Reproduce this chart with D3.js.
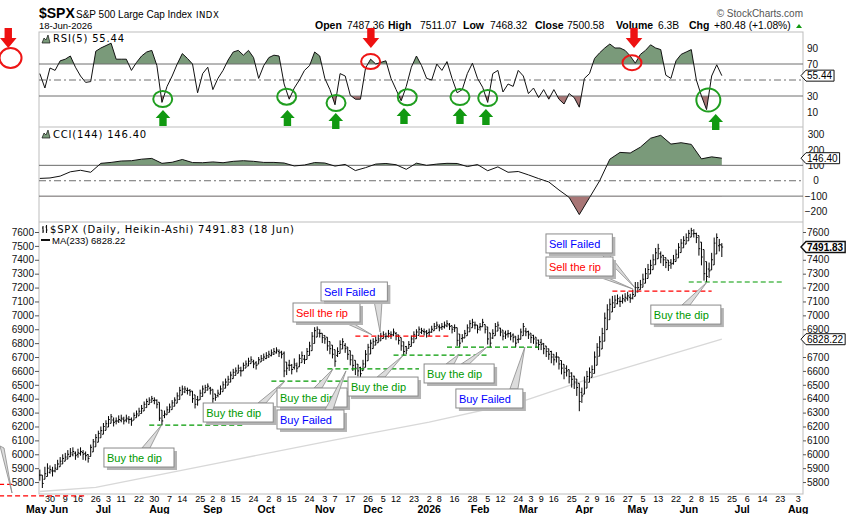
<!DOCTYPE html>
<html>
<head>
<meta charset="utf-8">
<title>$SPX Heikin-Ashi</title>
<script src="https://cdn.jsdelivr.net/npm/d3@7"></script>
<style>
  body { margin: 0; background: #fff; }
  svg text { font-family: "Liberation Sans", Arial, sans-serif; }
</style>
</head>
<body>
<script>
// ---- data ----
var holidays = ["2025-05-26", "2025-06-19", "2025-07-04", "2025-09-01", "2025-11-27", "2025-12-25",
  "2026-01-01", "2026-01-19", "2026-02-16", "2026-04-03", "2026-05-25", "2026-06-19", "2026-07-03"];

// Heikin-Ashi close / low / high, one per trading day from 23 May 2025 to 18 Jun 2026
var closes = [5850,5790,5860,5900,5890, 5880,5900,5930,5950,5970, 5980,6000,6010,6020,5990, 6010,6020,6000,5990,
  5970,6050,6090,6120,6150, 6170, 6200,6220,6250, 6270,6230,6240,6250,6260, 6240,6260,6250,6240,6280,
  6290,6310,6330,6360,6380, 6390,6400,6390,6360, 6260, 6240,6290,6320,6340,6370, 6390,6420,6460,6470,6470,
  6460,6450,6400,6360,6390, 6440,6470,6480,6490,6460, 6400,6410,6440,6470, 6500,6520,6540,6570,6590,
  6600,6620,6600,6640,6650, 6670,6680,6650,6640,6680, 6690,6700,6710,6720,6730, 6740,6750,6730,6720,6600,
  6620,6640,6610,6650,6620, 6690,6710,6680,6740,6780, 6850,6890,6900,6870,6840, 6830,6780,6760,6720,6670,
  6740,6790,6810,6760,6720, 6680,6640,6620,6600,6580, 6650,6720,6770,6800, 6810,6820,6830,6850,6860,
  6850,6870,6860,6880,6850, 6820,6780,6740,6750,6790, 6830,6860,6880,6900,6890,6880,6870,
  6880,6900,6920,6930,6910,6920, 6930,6940,6920,6900,6910, 6820,6800,6840,6870, 6910,6940,6950,6930,6900,
  6920,6950,6900,6830,6800, 6870,6920,6930,6880,6850, 6860,6870,6850,6840, 6800,6830,6880,6920,6880,
  6860,6840,6830,6800,6790, 6790,6760,6740,6720,6700, 6680,6700,6650,6620,6590, 6600,6560,6540,6520,6480,
  6380,6420, 6520,6560, 6590,6610,6700,6770,6810, 6870,6980,7040,7080,7090, 7110,7120,7100,7120,7130,
  7140,7120,7150,7200, 7200, 7220,7260,7300,7330,7360, 7400,7450,7480,7420,7400, 7380,7360,7370,7400,7440,
  7490,7520,7540,7560, 7590,7610,7590,7560,7480, 7420,7300,7280,7320,7400, 7520,7560,7510,7491.83];
var lows = [5810,5757,5820,5860,5860, 5840,5870,5890,5920,5940, 5950,5970,5980,5985,5960, 5975,5990,5960,5955,
  5940,6000,6060,6090,6120, 6140, 6170,6190,6220, 6240,6200,6215,6225,6230, 6215,6230,6220,6205,6250,
  6265,6285,6305,6330,6350, 6365,6375,6360,6330, 6240, 6210,6260,6295,6315,6345, 6360,6395,6430,6445,6440,
  6430,6420,6370,6330,6350, 6400,6440,6455,6460,6430, 6370,6385,6410,6440, 6470,6495,6515,6545,6565,
  6575,6595,6560,6610,6625, 6645,6655,6620,6610,6650, 6665,6675,6685,6695,6705, 6715,6725,6700,6690,6555,
  6570,6600,6575,6610,6590, 6650,6680,6650,6700,6750, 6810,6855,6870,6840,6800, 6795,6745,6720,6690,6630,
  6700,6760,6780,6730,6680, 6640,6600,6570,6560,6545, 6600,6680,6740,6770, 6780,6795,6805,6820,6835,
  6825,6840,6830,6850,6820, 6790,6745,6710,6720,6760, 6800,6830,6855,6875,6865,6855,6840,
  6850,6875,6895,6905,6885,6895, 6905,6915,6895,6870,6880, 6780,6770,6805,6840, 6880,6910,6925,6900,6870,
  6890,6920,6870,6790,6770, 6830,6890,6900,6850,6820, 6830,6840,6820,6805, 6770,6800,6850,6890,6850,
  6830,6800,6795,6765,6750, 6750,6720,6700,6680,6655, 6640,6660,6610,6575,6540, 6560,6510,6480,6470,6420,
  6310,6370, 6470,6520, 6550,6570,6660,6730,6780, 6830,6930,7000,7040,7050, 7070,7080,7060,7085,7095,
  7105,7090,7115,7160, 7165, 7185,7225,7265,7295,7325, 7365,7410,7440,7375,7355, 7340,7320,7335,7365,7400,
  7450,7485,7505,7525, 7555,7575,7560,7520,7430, 7360,7250,7240,7270,7350, 7470,7520,7460,7420];
var highs = [5890,5830,5910,5935,5920, 5910,5930,5960,5980,6000, 6010,6030,6045,6050,6020, 6040,6050,6030,6020,
  6000,6070,6110,6145,6170, 6200, 6225,6245,6275, 6290,6265,6265,6280,6285, 6270,6285,6275,6265,6300,
  6315,6335,6355,6380,6400, 6410,6420,6410,6395, 6300, 6275,6315,6345,6365,6390, 6410,6445,6485,6495,6490,
  6480,6470,6430,6390,6420, 6465,6495,6500,6510,6485, 6440,6435,6465,6495, 6525,6545,6565,6595,6615,
  6625,6645,6630,6660,6675, 6695,6705,6680,6670,6700, 6715,6725,6735,6745,6755, 6765,6770,6755,6745,6740,
  6660,6680,6650,6690,6660, 6720,6740,6715,6765,6810, 6880,6915,6920,6900,6870, 6855,6820,6790,6760,6710,
  6770,6820,6835,6800,6760, 6720,6680,6660,6650,6630, 6680,6750,6795,6825, 6835,6845,6860,6875,6885,
  6875,6895,6885,6905,6880, 6850,6810,6775,6780,6815, 6855,6885,6900,6920,6910,6905,6895,
  6905,6925,6945,6955,6935,6945, 6955,6965,6945,6925,6935, 6870,6835,6865,6895, 6935,6965,6975,6955,6930,
  6945,6975,6930,6870,6835, 6900,6945,6955,6910,6880, 6890,6895,6880,6870, 6835,6860,6905,6945,6910,
  6890,6870,6860,6835,6825, 6830,6800,6780,6760,6745, 6720,6735,6695,6665,6635, 6640,6610,6590,6565,6530,
  6450,6480, 6560,6600, 6625,6640,6740,6800,6850, 6910,7020,7080,7120,7140, 7145,7150,7135,7150,7160,
  7170,7155,7185,7240, 7240, 7255,7300,7340,7370,7400, 7440,7485,7515,7460,7435, 7415,7395,7405,7435,7475,
  7520,7550,7570,7590, 7615,7630,7620,7595,7540, 7480,7460,7330,7380,7450, 7560,7590,7550,7520];

// MA(233), read at a few trading-day positions
var maDays = [0, 22, 70, 115, 153, 189, 217, 268];
var maValues = [5732, 5762, 5937, 6100, 6232, 6377, 6550, 6828.22];

// RSI(5) every 2nd trading day
var rsiStep = 2;
var rsi5 = [58,40,65,62,74,76,80,66,55,47, 48,86,90,93,96,76,76,76,62,72,
  80,85,87,68,22,42,55,70,83,77, 70,34,58,66,38,52,62,75,85,87,
  81,87,78,52,68,78,81,80,45,26, 40,50,62,68,85,80,52,38,19,58,
  55,31,26,26,65,76,70,72,74,52, 38,24,42,66,80,68,52,50,70,62,
  73,52,34,38,58,71,52,41,22,58, 62,35,45,42,62,55,33,40,28,38,
  26,38,26,20,33,28,16,52,58,77, 84,90,95,90,90,87,80,71,82,87,
  94,90,88,56,52,74,82,85,88,50, 30,13,55,69,55.44];

// CCI(144) every 4th trading day
var cciStep = 4;
var cci144 = [15,18,30,58,68,55,113,119,128,130, 140,145,113,120,138,118,117,122,117,126,
  130,126,119,119,115,96,102,118,115,95, 106,66,85,108,112,104,74,114,100,108,
  113,112,92,105,65,90,55,60,38,14, -8,-60,-108,-220,-110,0,140,184,180,218,
  276,295,238,247,236,142,155,146.4];

// support / resistance levels drawn on the price panel
var levelFrom = [43, 91, 113, 139, 160, 255, 124, 225, -16, -16];
var levelTo   = [80, 121, 149, 176, 196, 292, 161, 264, 18.6, -10.5];
var levelPrice = [6210, 6527, 6614, 6714, 6772, 7240, 6850, 7175, 5700, 5784];
var levelKind = ["buy", "buy", "buy", "buy", "buy", "buy", "sell", "sell", "sell", "sell"];

// callouts: text, box top-left (day, price), tails [base day, target day, target price]
var callouts = [
  { text: "Buy the dip", kind: "buy", day: 25.2, price: 6045, tails: [[41.7, 47.8, 6210]] },
  { text: "Buy the dip", kind: "buy", day: 64.2, price: 6369, tails: [[87.3, 96.3, 6527]] },
  { text: "Buy the dip", kind: "buy", day: 93.2, price: 6477, tails: [[109.3, 115.2, 6614]] },
  { text: "Buy Failed", kind: "fail", day: 93.2, price: 6319, tails: [[113.6, 120.3, 6600]] },
  { text: "Buy the dip", kind: "buy", day: 121.1, price: 6556, tails: [[134.1, 142.7, 6710]] },
  { text: "Sell the rip", kind: "sell", day: 99.5, price: 7089, tails: [[120.7, 130.5, 6860]] },
  { text: "Sell Failed", kind: "fail", day: 110.5, price: 7240, tails: [[132.9, 133.7, 6880]] },
  { text: "Buy the dip", kind: "buy", day: 151.0, price: 6650, tails: [[161.2, 164.7, 6720], [167.2, 175.7, 6772]] },
  { text: "Buy Failed", kind: "fail", day: 163.5, price: 6470, tails: [[186.3, 190.6, 6772]] },
  { text: "Sell Failed", kind: "fail", day: 198.9, price: 7586, tails: [[221.7, 233.8, 7200]] },
  { text: "Sell the rip", kind: "sell", day: 198.9, price: 7420, tails: [[220.1, 233.0, 7190]] },
  { text: "Buy the dip", kind: "buy", day: 240.1, price: 7074, tails: [[253.9, 262.2, 7240]] }
];

// RSI annotations
var buyCircleDays = [48.3, 97, 116.4, 144.4, 165.1, 176, 262.7];
var buyCircleRsi = [26.25, 29.1, 21.25, 28.4, 28.75, 27.5, 25];
var buyArrowDays = [48.4, 97.3, 116.3, 143.1, 165.1, 175.3, 265.6];
var buyArrowRsi = [12.5, 12.5, 8.75, 15, 15, 13.75, 7.5];
var sellCircleDays = [130, 232.7, -11.5];
var sellCircleRsi = [73, 71.6, 77.5];
var sellArrowDays = [130.1, 233.5, -12.4];
var sellArrowRsi = [90, 90, 90];

var dayTicks = ["2025-05-30", "2025-06-09", "2025-06-16", "2025-06-26", "2025-07-03", "2025-07-11", "2025-07-22",
  "2025-07-30", "2025-08-07", "2025-08-14", "2025-08-25", "2025-09-02", "2025-09-08", "2025-09-15", "2025-09-24",
  "2025-10-02", "2025-10-08", "2025-10-15", "2025-10-24", "2025-11-03", "2025-11-07", "2025-11-17", "2025-11-26",
  "2025-12-05", "2025-12-12", "2025-12-23", "2026-01-02", "2026-01-08", "2026-01-16", "2026-01-28", "2026-02-05",
  "2026-02-12", "2026-02-24", "2026-03-03", "2026-03-09", "2026-03-16", "2026-03-25", "2026-04-02", "2026-04-09",
  "2026-04-16", "2026-04-27", "2026-05-05", "2026-05-13", "2026-05-22", "2026-06-02", "2026-06-08", "2026-06-15",
  "2026-06-25", "2026-07-06", "2026-07-14", "2026-07-23", "2026-08-03"];
var monthLabels = ["May", "Jun", "Jul", "Aug", "Sep", "Oct", "Nov", "Dec", "2026", "Feb", "Mar", "Apr", "May", "Jun", "Jul", "Aug"];
var monthDates = ["2025-06-02", "2025-06-02", "2025-07-01", "2025-08-01", "2025-09-02", "2025-10-01", "2025-11-03",
  "2025-12-01", "2026-01-02", "2026-02-02", "2026-03-02", "2026-04-01", "2026-05-01", "2026-06-01", "2026-07-01", "2026-08-03"];

// ---- layout ----
var W = 853, H = 514;
var L = 39, R = 803;
var rsiTop = 32, rsiBot = 127, cciBot = 222, mainBot = 494;
var colors = { buy: "#009900", sell: "#ff0000", fail: "#0000ff" };
var upFill = "#7a9a7a", downFill = "#a87676";

// trading-day calendar
var fmt = d3.utcFormat("%Y-%m-%d");
var days = d3.utcDays(new Date("2025-05-23T00:00:00Z"), new Date("2026-08-15T00:00:00Z"))
  .filter(function(d) { return d.getUTCDay() !== 0 && d.getUTCDay() !== 6 && holidays.indexOf(fmt(d)) < 0; })
  .map(fmt);
var dayIndex = {};
days.forEach(function(s, i) { dayIndex[s] = i; });

var x = d3.scaleLinear().domain([-0.32, 299.9]).range([L, R]);
var yR = d3.scaleLinear().domain([-8.75, 110]).range([rsiBot, rsiTop]);
var yC = d3.scaleLinear().domain([-268, 349]).range([cciBot, rsiBot]);
var yM = d3.scaleLinear().domain([5714, 7672]).range([mainBot, cciBot]);

var svg = d3.select("body").append("svg").attr("width", W).attr("height", H);
var defs = svg.append("defs");
function clip(id, x0, y0, w, h) {
  defs.append("clipPath").attr("id", id).append("rect").attr("x", x0).attr("y", y0).attr("width", w).attr("height", h);
  return "url(#" + id + ")";
}

// ---- header ----
svg.append("text").attr("x", 39).attr("y", 18).attr("font-size", 14).attr("font-weight", "bold").text("$SPX");
svg.append("text").attr("x", 76).attr("y", 18).attr("font-size", 10).text("S&P 500 Large Cap Index");
svg.append("text").attr("x", 196).attr("y", 18).attr("font-size", 8.5).attr("letter-spacing", 0.5)
  .style("font-family", "DejaVu Sans").text("INDX");
svg.append("text").attr("x", 39).attr("y", 29).attr("font-size", 9.5).text("18-Jun-2026");
svg.append("text").attr("x", 803).attr("y", 17).attr("font-size", 10).attr("text-anchor", "end")
  .attr("fill", "#555").text("\u00a9 StockCharts.com");

var quote = [["Open", 315, true], ["7487.36", 347, false], ["High", 388, true], ["7511.07", 420, false],
  ["Low", 463, true], ["7468.32", 490, false], ["Close", 535, true], ["7500.58", 567, false],
  ["Volume", 616, true], ["6.3B", 658, false], ["Chg", 689, true], ["+80.48 (+1.08%)", 714, false]];
quote.forEach(function(q) {
  svg.append("text").attr("x", q[1]).attr("y", 29).attr("font-size", q[2] ? 10.5 : 10.3)
    .attr("font-weight", q[2] ? "bold" : "normal").text(q[0]);
});
svg.append("path").attr("d", "M796,28 L799,24 L802,28 Z").attr("fill", "#119911");

// ---- panel frame ----
svg.append("rect").attr("x", L).attr("y", rsiTop).attr("width", R - L).attr("height", mainBot - rsiTop)
  .attr("fill", "none").attr("stroke", "#bdbdbd");
[rsiBot, cciBot].forEach(function(yy) {
  svg.append("line").attr("x1", L).attr("x2", R).attr("y1", yy).attr("y2", yy).attr("stroke", "#bdbdbd");
});

function hline(yy, dashed) {
  svg.append("line").attr("x1", L).attr("x2", R).attr("y1", yy).attr("y2", yy)
    .attr("stroke", "#6e6e6e").attr("stroke-width", 1)
    .attr("stroke-dasharray", dashed ? "7,3,2,3" : null);
}

function indicator(values, step, yS, hi, lo, mid, clipBase) {
  var pts = values.map(function(v, k) { return [k * step, v]; });
  var cAll = clip(clipBase + "all", L, yS.range()[1], R - L, yS.range()[0] - yS.range()[1]);
  var cHi = clip(clipBase + "hi", L, yS.range()[1], R - L, yS(hi) - yS.range()[1]);
  var cLo = clip(clipBase + "lo", L, yS(lo), R - L, yS.range()[0] - yS(lo));
  var areaHi = d3.area().x(function(d) { return x(d[0]); }).y0(yS(hi)).y1(function(d) { return yS(d[1]); });
  var areaLo = d3.area().x(function(d) { return x(d[0]); }).y0(yS(lo)).y1(function(d) { return yS(d[1]); });
  svg.append("path").datum(pts).attr("d", areaHi).attr("fill", upFill).attr("clip-path", cHi);
  svg.append("path").datum(pts).attr("d", areaLo).attr("fill", downFill).attr("clip-path", cLo);
  hline(yS(hi), false);
  hline(yS(lo), false);
  hline(yS(mid), true);
  svg.append("path").datum(pts).attr("clip-path", cAll)
    .attr("d", d3.line().x(function(d) { return x(d[0]); }).y(function(d) { return yS(d[1]); }))
    .attr("fill", "none").attr("stroke", "#111").attr("stroke-width", 1);
}

indicator(rsi5, rsiStep, yR, 70, 30, 50, "rsi");
indicator(cci144, cciStep, yC, 100, -100, 0, "cci");

// panel titles
function mountainIcon(x0, yb) {
  svg.append("path").attr("d", "M" + x0 + "," + yb + " l2,-5 l2,2 l2,-5 l2,8 Z")
    .attr("fill", upFill).attr("stroke", "#111").attr("stroke-width", 0.7);
}
function panelTitle(x0, yb, txt, size) {
  svg.append("text").attr("x", x0).attr("y", yb).attr("font-size", size || 10)
    .attr("letter-spacing", 0.8).style("font-family", "DejaVu Sans").text(txt);
}
mountainIcon(42, 43);
panelTitle(53, 42, "RSI(5) 55.44");
mountainIcon(42, 138);
panelTitle(53, 137.5, "CCI(144) 146.40");
// price title icon
svg.append("path").attr("d", "M43,226 v7 M42,228 h1 M43,231 h1 M46.5,225 v8 M45.5,227 h1 M46.5,230 h1")
  .attr("stroke", "#111").attr("stroke-width", 1.1).attr("fill", "none");
panelTitle(50, 233, "$SPX (Daily, Heikin-Ashi) 7491.83 (18 Jun)");
svg.append("line").attr("x1", 41).attr("x2", 50).attr("y1", 240).attr("y2", 240).attr("stroke", "#111").attr("stroke-width", 2);
svg.append("text").attr("x", 52).attr("y", 243.5).attr("font-size", 9.5).text("MA(233) 6828.22");

// ---- right / left axes ----
function styleAxis(g, size) {
  g.select(".domain").remove();
  g.selectAll("text").attr("font-size", size).attr("fill", "#111")
    .style("font-family", "'Liberation Sans', Arial, sans-serif");
  g.selectAll("line").attr("stroke", "#555");
}
// ticks hidden behind the last-value tags are left out
var gr = svg.append("g").attr("transform", "translate(" + R + ",0)")
  .call(d3.axisRight(yR).tickValues([10, 30, 70, 90]).tickSize(0).tickPadding(4));
styleAxis(gr, 10);
var gc = svg.append("g").attr("transform", "translate(" + R + ",0)")
  .call(d3.axisRight(yC).tickValues([-200, -100, 0, 100, 200, 300]).tickSize(0).tickPadding(13));
styleAxis(gc, 10);
gc.selectAll("text").attr("text-anchor", "middle");
var priceTicks = d3.range(5800, 7601, 100);
var gmr = svg.append("g").attr("transform", "translate(" + R + ",0)")
  .call(d3.axisRight(yM).tickValues(priceTicks.filter(function(v) { return v !== 7500 && v !== 6800; }))
    .tickSize(3).tickPadding(1).tickFormat(d3.format("d")));
styleAxis(gmr, 10);
var gml = svg.append("g").attr("transform", "translate(" + L + ",0)")
  .call(d3.axisLeft(yM).tickValues(priceTicks).tickSize(4).tickPadding(1).tickFormat(d3.format("d")));
styleAxis(gml, 10);

// ---- x axis labels ----
dayTicks.forEach(function(s) {
  svg.append("text").attr("x", x(dayIndex[s])).attr("y", 501.5).attr("font-size", 9)
    .attr("text-anchor", "middle").text(+s.slice(8));
});
monthLabels.forEach(function(m, k) {
  var px = x(dayIndex[monthDates[k]]);
  var t = svg.append("text").attr("y", 513).attr("font-size", 10.5).attr("font-weight", "bold").text(m);
  if (k === 0) t.attr("x", px - 6).attr("text-anchor", "end");
  else if (k === 1) t.attr("x", px - 3).attr("text-anchor", "start");
  else t.attr("x", px).attr("text-anchor", "middle");
});

// ---- price panel ----
var cMain = clip("main", L, cciBot, R - L, mainBot - cciBot);
var gPrice = svg.append("g").attr("clip-path", cMain);

gPrice.append("path").datum(maDays.map(function(d, k) { return [d, maValues[k]]; }))
  .attr("d", d3.line().x(function(d) { return x(d[0]); }).y(function(d) { return yM(d[1]); }))
  .attr("fill", "none").attr("stroke", "#d8d8d8").attr("stroke-width", 1.3);

var opens = [];
closes.forEach(function(c, i) {
  opens.push(i === 0 ? (lows[0] + highs[0]) / 2 : (opens[i - 1] + closes[i - 1]) / 2);
});
var bars = gPrice.append("g").attr("stroke", "#000").attr("stroke-width", 1).attr("fill", "none");
closes.forEach(function(c, i) {
  var o = opens[i];
  var lo = Math.min(lows[i], o, c), hi = Math.max(highs[i], o, c);
  var bx = x(i);
  bars.append("path").attr("d",
    "M" + bx + "," + yM(hi) + "V" + yM(lo) +
    "M" + (bx - 1.3) + "," + yM(o) + "H" + bx +
    "M" + bx + "," + yM(c) + "H" + (bx + 1.3));
});

// levels
levelPrice.forEach(function(p, k) {
  svg.append("line").attr("x1", x(levelFrom[k])).attr("x2", x(levelTo[k]))
    .attr("y1", yM(p)).attr("y2", yM(p))
    .attr("stroke", colors[levelKind[k]]).attr("stroke-width", 1.2).attr("stroke-dasharray", "5,3");
});

// tail from an off-chart callout at the left edge
svg.append("path").attr("d", "M0,446 L4,448 L12,493 Z").attr("fill", "#dcdcdc").attr("stroke", "#8a8a8a").attr("stroke-width", 0.8);

// callouts
var gCall = svg.append("g");
callouts.forEach(function(c) {
  var bx = x(c.day), by = yM(c.price);
  var tmp = gCall.append("text").attr("font-size", 11).text(c.text);
  var tw = tmp.node().getComputedTextLength();
  tmp.remove();
  var bw = tw + 15, bh = 19;
  c.tails.forEach(function(t) {
    var baseX = x(t[0]), tx = x(t[1]), ty = yM(t[2]);
    var edge = ty < by ? by : by + bh;
    gCall.append("path").attr("d", "M" + (baseX - 4) + "," + edge + "L" + tx + "," + ty + "L" + (baseX + 4) + "," + edge + "Z")
      .attr("fill", "#dcdcdc").attr("stroke", "#8a8a8a").attr("stroke-width", 0.8);
  });
  gCall.append("rect").attr("x", bx + 3).attr("y", by + 3).attr("width", bw).attr("height", bh).attr("fill", "#b4b4b4");
  gCall.append("rect").attr("x", bx).attr("y", by).attr("width", bw).attr("height", bh)
    .attr("fill", "#fff").attr("stroke", "#8a8a8a").attr("stroke-width", 1);
  gCall.append("text").attr("x", bx + 3).attr("y", by + 14).attr("font-size", 11)
    .attr("fill", colors[c.kind]).text(c.text);
});

// ---- RSI annotations ----
buyCircleDays.forEach(function(d, k) {
  var big = k === buyCircleDays.length - 1;
  svg.append("ellipse").attr("cx", x(d)).attr("cy", yR(buyCircleRsi[k]))
    .attr("rx", big ? 12 : 9.5).attr("ry", big ? 11.5 : 8)
    .attr("fill", "none").attr("stroke", "#1f9e1f").attr("stroke-width", 2);
});
buyArrowDays.forEach(function(d, k) {
  var cx = x(d), ay = yR(buyArrowRsi[k]);
  svg.append("path").attr("fill", "#119911")
    .attr("d", "M" + cx + "," + ay + " l7.3,8 h-3.6 v8 h-7.4 v-8 h-3.6 Z");
});
sellCircleDays.forEach(function(d, k) {
  var big = k === sellCircleDays.length - 1;
  svg.append("ellipse").attr("cx", x(d)).attr("cy", yR(sellCircleRsi[k]))
    .attr("rx", big ? 11 : 9.5).attr("ry", big ? 10 : 7.5)
    .attr("fill", "none").attr("stroke", "#ee1515").attr("stroke-width", 2);
});
sellArrowDays.forEach(function(d, k) {
  var cx = x(d), ty = yR(sellArrowRsi[k]);
  svg.append("path").attr("fill", "#ee1111")
    .attr("d", "M" + cx + "," + ty + " l-8.3,-10 h4.6 v-10 h7.4 v10 h4.6 Z");
});

// ---- last-value tags ----
function tag(yy, txt, bold) {
  var t = svg.append("text").attr("x", 807).attr("y", yy + 3.6).attr("font-size", 10)
    .attr("font-weight", bold ? "bold" : "normal").text(txt);
  var w = t.node().getComputedTextLength();
  svg.insert("path", function() { return t.node(); })
    .attr("d", "M801," + yy + " L806," + (yy - 5.5) + " H" + (809 + w) + " V" + (yy + 5.5) + " H806 Z")
    .attr("fill", "#fff").attr("stroke", "#111").attr("stroke-width", bold ? 1.4 : 1);
}
tag(yR(55.44), "55.44", false);
tag(yC(146.4), "146.40", false);
tag(yM(6828.22), "6828.22", false);
tag(yM(7491.83), "7491.83", true);
</script>
</body>
</html>
